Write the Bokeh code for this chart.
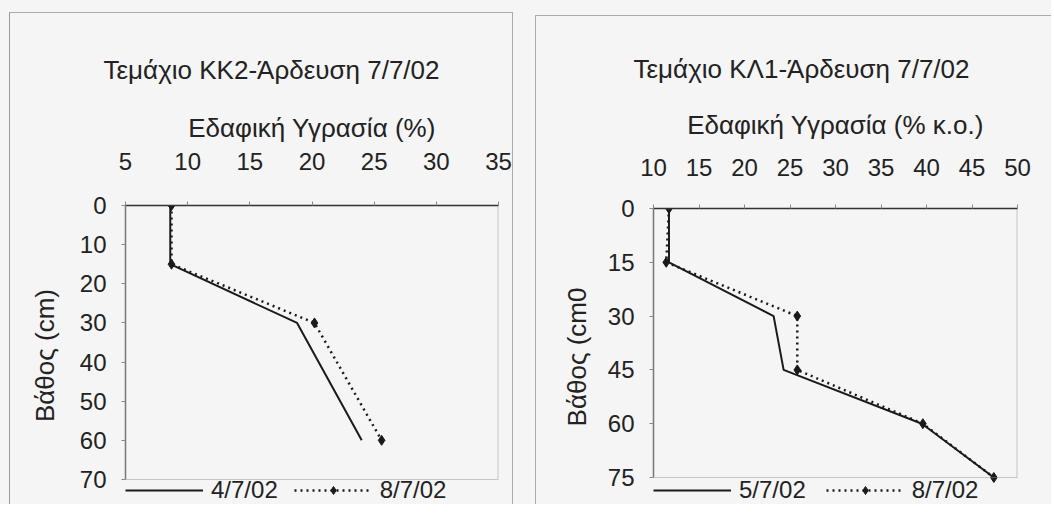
from bokeh.plotting import figure
from bokeh.models import Range1d, FixedTicker, Span
from bokeh.layouts import row
from bokeh.embed import file_html
from bokeh.resources import INLINE

# ---- data ----
kk2_title = "Τεμάχιο ΚΚ2-Άρδευση 7/7/02"
kk2_xlabel = "Εδαφική Υγρασία (%)"
kk2_ylabel = "Βάθος (cm)"
kk2_depth = [0, 15, 30, 60]
kk2_a_label = "4/7/02"
kk2_a = [8.6, 8.6, 18.8, 24.0]
kk2_b_label = "8/7/02"
kk2_b = [8.7, 8.7, 20.2, 25.6]
kk2_xticks = [5, 10, 15, 20, 25, 30, 35]
kk2_yticks = [0, 10, 20, 30, 40, 50, 60, 70]

kl1_title = "Τεμάχιο ΚΛ1-Άρδευση 7/7/02"
kl1_xlabel = "Εδαφική Υγρασία (% κ.ο.)"
kl1_ylabel = "Βάθος (cm0"
kl1_depth = [0, 15, 30, 45, 60, 75]
kl1_a_label = "5/7/02"
kl1_a = [11.7, 11.7, 23.2, 24.3, 39.5, 47.4]
kl1_b_label = "8/7/02"
kl1_b = [11.7, 11.4, 25.8, 25.8, 39.6, 47.4]
kl1_xticks = [10, 15, 20, 25, 30, 35, 40, 45, 50]
kl1_yticks = [0, 15, 30, 45, 60, 75]

FONT = "Liberation Sans"
BG = "#f5f5f5"
INK = "#222222"


def make(title, xlabel, ylabel, depth, a, b, alab, blab, xticks, yticks,
         width, height, bl, bt, br, axis_px, title_offset, title_standoff, xlab_so, xlab_as,
         ylab_standoff, leg_spacing, margin, styles):
    # the frame runs to the canvas bottom so that the legend (kept inside the frame) shows
    # below the last depth tick; the depth axis itself stops at the last tick
    frame_px = height - bt
    y_ext = yticks[-1] * frame_px / axis_px
    p = figure(width=width, height=height, output_backend="svg", toolbar_location=None,
               x_axis_location="above",
               x_range=Range1d(xticks[0], xticks[-1]),
               y_range=Range1d(y_ext, yticks[0]),
               min_border_left=bl, min_border_top=bt, min_border_right=br, min_border_bottom=0,
               background_fill_color=BG, border_fill_color=BG,
               margin=margin, styles=styles)
    p.grid.visible = False
    p.outline_line_color = None

    p.title.text = title
    p.title.align = "left"
    p.title.offset = title_offset
    p.title.standoff = title_standoff
    p.title.text_font = FONT
    p.title.text_font_size = "26px"
    p.title.text_font_style = "normal"
    p.title.text_color = INK

    for ax in (p.xaxis[0], p.yaxis[0]):
        ax.major_label_text_font = FONT
        ax.major_label_text_font_size = "24px"
        ax.major_label_text_color = INK
        ax.axis_label_text_font = FONT
        ax.axis_label_text_font_size = "26px"
        ax.axis_label_text_font_style = "normal"
        ax.axis_label_text_color = INK
        ax.major_tick_in = 0
        ax.major_tick_out = 4
        ax.minor_tick_line_color = None
        ax.major_tick_line_color = "#888888"
    p.xaxis.ticker = FixedTicker(ticks=xticks)
    p.yaxis.ticker = FixedTicker(ticks=yticks)
    p.yaxis.bounds = (yticks[0], yticks[-1])
    p.xaxis.axis_label = xlabel
    p.yaxis.axis_label = ylabel
    p.xaxis.axis_line_color = "#333333"
    p.xaxis.axis_line_width = 1.5
    p.yaxis.axis_line_color = "#777777"
    p.yaxis.axis_line_width = 1.5
    p.xaxis.major_label_standoff = xlab_so
    p.xaxis.axis_label_standoff = xlab_as
    p.yaxis.major_label_standoff = 15
    p.yaxis.axis_label_standoff = ylab_standoff

    # dotted plot-area border on the bottom and right
    p.add_layout(Span(location=yticks[-1], dimension="width", line_color="#999999",
                      line_dash="1 1", line_width=1.2))
    p.segment(x0=[xticks[-1]], y0=[yticks[0]], x1=[xticks[-1]], y1=[yticks[-1]],
              line_color="#999999", line_dash="1 1", line_width=2)

    p.line(a, depth, line_color="#1a1a1a", line_width=2, legend_label=alab)
    p.line(b, depth, line_color="#1a1a1a", line_width=2.5, line_dash="2 4", legend_label=blab)
    p.scatter(b, depth, marker="diamond", size=10, fill_color="#1a1a1a",
              line_color="#1a1a1a", legend_label=blab)

    lg = p.legend[0]
    lg.location = (0, 1)
    lg.orientation = "horizontal"
    lg.glyph_width = 78
    lg.glyph_height = 20
    lg.label_standoff = 8
    lg.spacing = leg_spacing
    lg.padding = 0
    lg.margin = 0
    lg.border_line_alpha = 0
    lg.background_fill_alpha = 0
    lg.label_text_font = FONT
    lg.label_text_font_size = "24px"
    lg.label_text_color = INK
    lg.label_height = 20
    return p


p1 = make(kk2_title, kk2_xlabel, kk2_ylabel, kk2_depth, kk2_a, kk2_b, kk2_a_label, kk2_b_label,
          kk2_xticks, kk2_yticks, width=504, height=492, bl=115, bt=192, br=16, axis_px=274,
          title_offset=-22, title_standoff=50, xlab_so=32, xlab_as=7, ylab_standoff=17,
          leg_spacing=16, margin=(12, 0, 0, 9),
          styles={"border-top": "1px solid #aaaaaa", "border-left": "1px solid #999999",
                  "border-right": "1px solid #aaaaaa"})
p2 = make(kl1_title, kl1_xlabel, kl1_ylabel, kl1_depth, kl1_a, kl1_b, kl1_a_label, kl1_b_label,
          kl1_xticks, kl1_yticks, width=516, height=489, bl=117, bt=192, br=35, axis_px=269,
          title_offset=-20, title_standoff=45, xlab_so=29, xlab_as=16, ylab_standoff=13,
          leg_spacing=20, margin=(15, 0, 0, 22),
          styles={"border-top": "1px solid #aaaaaa", "border-left": "1px solid #aaaaaa"})

layout = row(p1, p2, styles={"background-color": BG})
open("out.html", "w").write(file_html(layout, INLINE))
